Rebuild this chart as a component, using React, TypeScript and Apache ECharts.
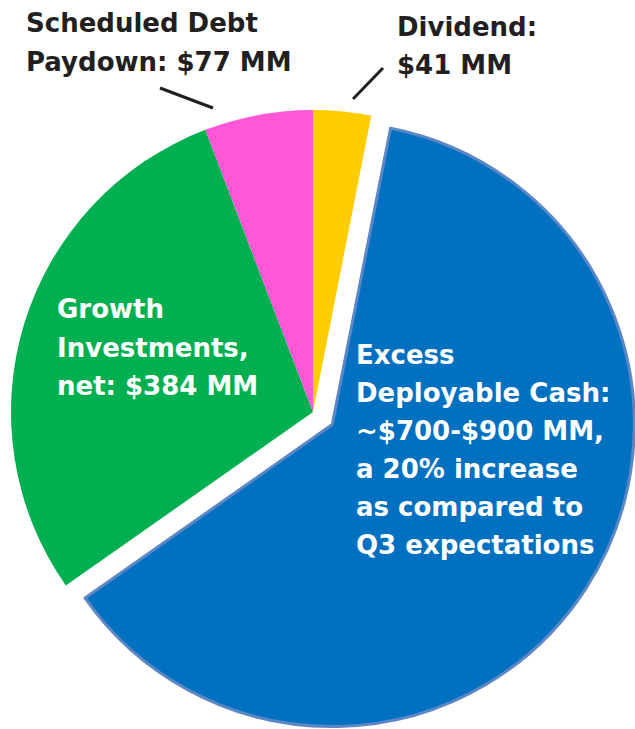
import React, { useEffect, useRef } from "react";
import * as echarts from "echarts";

const sliceNames = ["Dividend", "Excess Deployable Cash", "Growth Investments, net", "Scheduled Debt Paydown"];
const sliceValues = [41, 825, 384, 77];
const sliceColors = ["#FFCC00", "#0070C0", "#00B050", "#FF57D6"];
const explodedSlice = "Excess Deployable Cash";

const debtLabel = ["Scheduled Debt", "Paydown: $77 MM"];
const dividendLabel = ["Dividend:", "$41 MM"];
const growthLabel = ["Growth", "Investments,", "net: $384 MM"];
const excessLabel = [
  "Excess",
  "Deployable Cash:",
  "~$700-$900 MM,",
  "a 20% increase",
  "as compared to",
  "Q3 expectations",
];

const FONT = 'bold 26px "DejaVu Sans", Verdana, sans-serif';

export default function App() {
  const ref = useRef<HTMLDivElement>(null);
  useEffect(() => {
    if (!ref.current) return;
    const chart = echarts.init(ref.current, undefined, { renderer: "svg" });
    const data = sliceNames.map((name, i) => ({
      name,
      value: sliceValues[i],
      selected: name === explodedSlice,
      itemStyle:
        name === explodedSlice
          ? { color: sliceColors[i], borderColor: "#5B87C6", borderWidth: 3 }
          : { color: sliceColors[i], borderWidth: 0 },
    }));
    const txt = (lines: string[], x: number, y: number, fill: string, lh: number) => ({
      type: "text",
      x,
      y,
      z: 100,
      style: {
        text: lines.join("\n"),
        font: FONT,
        fill,
        lineHeight: lh,
        verticalAlign: "top",
        align: "left",
      },
    });
    chart.setOption({
      animation: false,
      series: [
        {
          type: "pie",
          center: [313, 412],
          radius: 302,
          startAngle: 90,
          clockwise: true,
          selectedMode: "single",
          selectedOffset: 23,
          label: { show: false },
          labelLine: { show: false },
          emphasis: { disabled: true },
          silent: true,
          data,
        },
      ],
      graphic: [
        txt(debtLabel, 26, 3.5, "#231F20", 39),
        txt(dividendLabel, 397, 7.5, "#231F20", 38),
        txt(growthLabel, 57, 290, "#FFFFFF", 38.5),
        txt(excessLabel, 356, 336, "#FFFFFF", 38),
        {
          type: "line",
          z: 100,
          shape: { x1: 160, y1: 88, x2: 213, y2: 108 },
          style: { stroke: "#231F20", lineWidth: 3 },
        },
        {
          type: "line",
          z: 100,
          shape: { x1: 353, y1: 99, x2: 383, y2: 68 },
          style: { stroke: "#231F20", lineWidth: 3 },
        },
      ],
    });
    return () => chart.dispose();
  }, []);
  return (
    <div
      ref={ref}
      style={{ position: "absolute", left: 0, top: 0, width: 635, height: 729 }}
    />
  );
}
